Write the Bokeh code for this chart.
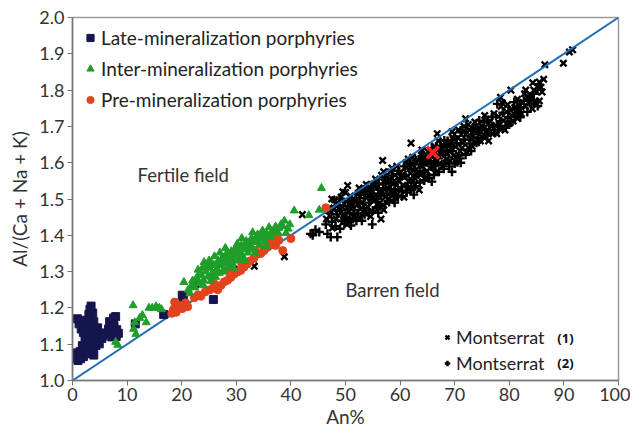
from bokeh.plotting import figure
from bokeh.models import Legend, LegendItem, Label, Range1d, FixedTicker
from bokeh.embed import file_html
from bokeh.resources import INLINE

# ---------------- data ----------------
x_ticks = [0, 10, 20, 30, 40, 50, 60, 70, 80, 90, 100]
y_ticks = [1.0, 1.1, 1.2, 1.3, 1.4, 1.5, 1.6, 1.7, 1.8, 1.9, 2.0]

ref_an = [0, 100]
ref_al = [1.0, 2.0]

late_an = [0.5, 1.0, 1.5, 2.0, 0.8, 1.4, 2.2, 2.6, 1.8, 2.9, 2.3, 3.1, 2.6, 3.4, 2.0, 1.6, 2.9, 3.6, 3.1, 2.6,
           1.2, 0.9, 1.6, 3.3, 3.0, 3.7, 3.2, 3.4, 3.9, 4.1, 4.4, 4.7, 5.1, 5.4, 4.9, 4.3, 3.8, 3.4, 4.6, 5.6,
           3.9, 2.9, 6.6, 6.8, 7.1, 7.5, 7.9, 7.6, 8.1, 8.4, 7.2, 8.0, 11.5, 16.7, 20.1, 20.3, 22.3, 25.8]
late_al = [1.060, 1.055, 1.060, 1.066, 1.076, 1.080, 1.082, 1.090, 1.096, 1.100, 1.110, 1.116, 1.125, 1.130,
           1.132, 1.142, 1.141, 1.146, 1.156, 1.160, 1.156, 1.170, 1.166, 1.172, 1.182, 1.186, 1.196, 1.205,
           1.162, 1.132, 1.112, 1.122, 1.131, 1.116, 1.101, 1.096, 1.088, 1.085, 1.145, 1.124, 1.070, 1.074,
           1.142, 1.162, 1.130, 1.172, 1.176, 1.150, 1.140, 1.130, 1.120, 1.121, 1.156, 1.182, 1.235, 1.222,
           1.266, 1.223]

inter_an = [7.9, 8.3, 11.1, 11.4, 11.2, 11.6, 12.3, 12.8, 13.5, 14.0, 15.3, 15.9, 16.3, 14.6,
            20.4, 21.2, 21.8, 22.4, 22.8, 23.3, 23.6, 24.1, 24.0, 24.4, 24.8, 25.1, 25.3, 25.6, 25.9, 26.2,
            26.4, 26.7, 26.9, 27.2, 27.5, 27.7, 28.0, 28.2, 28.5, 28.8, 29.1, 29.3, 29.6, 29.9, 30.2, 30.3,
            30.6, 30.9, 31.2, 31.5, 31.8, 32.1, 32.4, 32.8, 33.1, 33.5, 33.9, 34.2, 34.6, 34.8, 35.2, 35.6,
            36.0, 36.3, 36.8, 37.2, 37.6, 38.2, 38.8, 39.1, 39.5, 40.6, 43.3, 45.2, 45.6, 26.0, 27.0, 28.0,
            25.0, 23.0, 31.0, 33.0,
            21.5, 22.0, 23.0, 23.8, 24.6, 25.4, 26.5, 27.3, 28.3, 29.0, 29.5, 30.0, 30.8, 31.6, 32.2, 33.0,
            33.7, 34.4, 35.0, 35.5, 36.5, 37.0, 37.8, 38.5, 39.8, 26.8, 28.6, 30.5, 32.5, 34.0, 36.0, 24.0,
            25.5, 27.5, 29.5, 31.5, 33.5, 35.5]
inter_al = [1.106, 1.098, 1.207, 1.160, 1.142, 1.128, 1.172, 1.180, 1.160, 1.200, 1.204, 1.200, 1.196, 1.200,
            1.271, 1.250, 1.262, 1.256, 1.280, 1.268, 1.290, 1.326, 1.276, 1.300, 1.286, 1.310, 1.274, 1.296,
            1.318, 1.285, 1.306, 1.330, 1.296, 1.318, 1.340, 1.305, 1.326, 1.350, 1.312, 1.336, 1.356, 1.322,
            1.344, 1.366, 1.377, 1.332, 1.352, 1.372, 1.342, 1.362, 1.384, 1.352, 1.372, 1.392, 1.362, 1.382,
            1.402, 1.372, 1.392, 1.413, 1.384, 1.404, 1.422, 1.398, 1.412, 1.424, 1.408, 1.430, 1.440, 1.406,
            1.418, 1.468, 1.455, 1.470, 1.530, 1.342, 1.352, 1.365, 1.330, 1.305, 1.392, 1.408,
            1.240, 1.275, 1.290, 1.310, 1.318, 1.325, 1.318, 1.330, 1.340, 1.345, 1.330, 1.355, 1.362, 1.372,
            1.380, 1.385, 1.392, 1.400, 1.405, 1.395, 1.410, 1.415, 1.420, 1.425, 1.430, 1.300, 1.322, 1.345,
            1.365, 1.382, 1.395, 1.262, 1.285, 1.300, 1.310, 1.330, 1.350, 1.370]

pre_an = [18.2, 18.5, 18.7, 19.5, 20.1, 21.1, 20.7, 19.0, 22.3, 23.0, 23.5, 24.3, 25.2, 25.9, 26.6, 27.2,
          27.8, 28.4, 29.0, 29.6, 30.2, 30.8, 31.4, 32.0, 32.6, 33.2, 33.8, 34.5, 35.1, 35.7, 35.1, 36.4,
          37.2, 37.5, 37.8, 37.5, 38.5, 40.0, 46.4, 26.0, 28.8, 31.0, 33.5, 36.0]
pre_al = [1.185, 1.196, 1.216, 1.207, 1.198, 1.203, 1.214, 1.188, 1.228, 1.236, 1.232, 1.244, 1.250, 1.256,
          1.250, 1.262, 1.272, 1.276, 1.284, 1.293, 1.299, 1.303, 1.312, 1.321, 1.330, 1.336, 1.348, 1.350,
          1.358, 1.367, 1.364, 1.374, 1.372, 1.390, 1.386, 1.400, 1.358, 1.391, 1.476, 1.266, 1.296, 1.322,
          1.357, 1.386]

# Montserrat (1): x markers
mont1 = [(22.6, 1.266), (29.6, 1.307), (33.3, 1.315), (38.8, 1.341), (42.1, 1.457), (50.4, 1.537),
         (56.8, 1.606), (62.0, 1.654), (66.8, 1.680), (72.0, 1.721), (80.3, 1.800), (86.5, 1.870),
         (89.9, 1.874), (91.6, 1.911), (91.0, 1.905), (56.5, 1.445), (85.5, 1.822), (85.8, 1.808),
         (83.3, 1.780), (78.4, 1.780), (84.5, 1.800), (49.5, 1.520), (47.5, 1.500),
         (47.2, 1.452), (47.8, 1.471), (48.3, 1.445), (48.6, 1.489), (49.1, 1.462), (49.4, 1.478),
         (49.8, 1.447), (50.2, 1.493), (50.6, 1.468), (50.9, 1.508), (51.3, 1.482), (51.7, 1.455),
         (52.0, 1.497), (52.4, 1.515), (52.7, 1.472), (53.1, 1.490), (53.4, 1.528), (53.8, 1.503),
         (54.1, 1.478), (54.5, 1.519), (54.8, 1.540), (55.2, 1.495), (55.6, 1.512), (55.9, 1.534),
         (56.3, 1.488), (56.6, 1.521), (57.0, 1.547), (57.3, 1.506), (57.7, 1.530), (58.0, 1.556),
         (58.4, 1.517), (58.7, 1.541), (59.1, 1.566), (59.4, 1.525), (59.8, 1.550), (60.1, 1.574),
         (60.5, 1.538), (60.8, 1.560), (61.2, 1.586), (61.6, 1.548), (61.9, 1.571), (62.3, 1.596),
         (62.7, 1.557), (63.0, 1.582), (63.4, 1.606), (63.8, 1.566), (64.1, 1.590), (64.5, 1.614),
         (64.9, 1.577), (65.2, 1.600), (65.6, 1.626), (66.0, 1.588), (66.4, 1.610), (66.8, 1.636),
         (67.2, 1.598), (67.6, 1.622), (68.0, 1.645), (68.5, 1.610), (68.9, 1.633), (69.3, 1.656),
         (69.8, 1.620), (70.2, 1.644), (70.6, 1.668), (71.0, 1.632), (71.5, 1.655), (72.0, 1.678),
         (72.5, 1.642), (73.0, 1.667), (73.5, 1.690), (74.0, 1.655), (74.5, 1.678), (75.0, 1.702),
         (75.5, 1.668), (76.0, 1.690), (76.5, 1.714), (77.0, 1.680), (77.5, 1.703), (78.0, 1.727),
         (78.5, 1.692), (79.0, 1.716), (79.5, 1.740), (80.0, 1.708), (80.5, 1.730), (81.0, 1.752),
         (81.5, 1.722), (82.0, 1.744), (82.5, 1.766), (83.0, 1.755), (83.8, 1.778), (84.2, 1.749),
         (85.0, 1.795), (85.5, 1.770),
         (55.5, 1.555), (58.5, 1.585), (61.5, 1.610), (64.0, 1.635), (67.0, 1.660), (69.5, 1.685),
         (72.5, 1.705), (75.5, 1.730), (78.5, 1.755), (81.5, 1.775), (52.5, 1.530), (57.0, 1.575),
         (46.5, 1.445), (47.0, 1.475), (47.6, 1.420), (48.0, 1.498), (48.8, 1.475), (49.2, 1.505),
         (49.6, 1.455), (50.0, 1.518), (50.3, 1.430), (50.8, 1.485), (51.2, 1.458), (51.6, 1.498),
         (52.2, 1.485), (52.6, 1.448), (53.0, 1.515), (53.4, 1.462), (53.8, 1.540), (54.3, 1.525),
         (54.6, 1.452), (55.0, 1.505), (55.3, 1.538), (55.8, 1.485), (56.2, 1.520), (56.6, 1.565),
         (57.0, 1.470), (57.4, 1.550), (57.8, 1.500), (58.2, 1.575), (58.6, 1.510), (59.0, 1.550),
         (59.4, 1.590), (59.9, 1.530), (60.3, 1.565), (60.7, 1.505), (61.1, 1.600), (61.5, 1.530),
         (61.9, 1.555), (62.3, 1.615), (62.7, 1.540), (63.1, 1.570), (63.5, 1.525), (63.9, 1.620),
         (64.3, 1.600), (64.7, 1.560), (65.1, 1.630), (65.5, 1.585), (66.3, 1.645), (66.7, 1.575),
         (67.3, 1.640), (67.7, 1.590), (68.2, 1.655), (68.6, 1.625), (69.2, 1.605), (69.7, 1.668),
         (70.3, 1.615), (70.7, 1.690), (71.3, 1.640), (71.7, 1.700), (72.2, 1.630), (72.7, 1.690),
         (73.2, 1.645), (73.7, 1.712), (74.2, 1.690), (74.7, 1.660), (75.2, 1.692), (75.7, 1.720),
         (76.2, 1.660), (76.7, 1.700), (77.2, 1.735), (77.7, 1.680), (78.2, 1.705), (78.7, 1.765),
         (79.2, 1.690), (79.7, 1.760), (80.2, 1.745), (80.7, 1.715), (81.2, 1.740), (81.7, 1.760),
         (82.2, 1.735), (82.8, 1.790), (83.5, 1.765), (84.0, 1.785), (84.8, 1.770), (85.3, 1.810),
         (86.0, 1.795), (84.3, 1.820), (83.0, 1.800), (86.3, 1.830), (85.0, 1.760)]

# Montserrat (2): + markers
mont2 = [(43.6, 1.404), (44.0, 1.400), (44.5, 1.415), (45.2, 1.409), (46.4, 1.430), (46.7, 1.404),
         (47.3, 1.395), (48.5, 1.395), (51.0, 1.427), (54.9, 1.430), (60.4, 1.523), (62.0, 1.528),
         (64.4, 1.551), (68.0, 1.597), (70.5, 1.601), (71.1, 1.600),
         (47.0, 1.462), (47.5, 1.437), (48.0, 1.480), (48.4, 1.458), (48.9, 1.500), (49.3, 1.440),
         (49.6, 1.492), (50.0, 1.460), (50.4, 1.480), (50.8, 1.448), (51.1, 1.495), (51.5, 1.470),
         (51.9, 1.513), (52.2, 1.460), (52.6, 1.502), (52.9, 1.525), (53.3, 1.476), (53.6, 1.512),
         (54.0, 1.535), (54.3, 1.490), (54.7, 1.505), (55.0, 1.526), (55.4, 1.548), (55.8, 1.500),
         (56.1, 1.543), (56.5, 1.508), (56.9, 1.530), (57.2, 1.560), (57.6, 1.515), (57.9, 1.543),
         (58.3, 1.528), (58.6, 1.565), (59.0, 1.540), (59.3, 1.510), (59.7, 1.578), (60.0, 1.556),
         (60.3, 1.522), (60.7, 1.590), (61.0, 1.566), (61.4, 1.535), (61.8, 1.598), (62.1, 1.582),
         (62.5, 1.545), (62.9, 1.606), (63.2, 1.568), (63.6, 1.595), (64.0, 1.618), (64.3, 1.578),
         (64.7, 1.602), (65.1, 1.566), (65.4, 1.614), (65.8, 1.640), (66.2, 1.600), (66.6, 1.622),
         (67.0, 1.612), (67.4, 1.647), (67.8, 1.632), (68.3, 1.622), (68.7, 1.660), (69.1, 1.643),
         (69.6, 1.632), (70.0, 1.672), (70.4, 1.654), (70.8, 1.620), (71.3, 1.684), (71.8, 1.664),
         (72.3, 1.690), (72.8, 1.653), (73.3, 1.678), (73.8, 1.700), (74.3, 1.668), (74.8, 1.690),
         (75.3, 1.712), (75.8, 1.680), (76.3, 1.702), (76.8, 1.726), (77.3, 1.690), (77.8, 1.762),
         (78.3, 1.714), (78.8, 1.738), (79.3, 1.702), (79.8, 1.726), (80.3, 1.711), (80.9, 1.767),
         (81.5, 1.730), (82.1, 1.753), (82.7, 1.771), (83.3, 1.740), (84.0, 1.760), (84.5, 1.790),
         (85.2, 1.756), (76.0, 1.716), (74.5, 1.716), (73.6, 1.698), (73.0, 1.670), (71.1, 1.689),
         (69.9, 1.670), (69.3, 1.652), (68.1, 1.661), (67.4, 1.634), (70.5, 1.606), (68.3, 1.601),
         (65.0, 1.606), (64.4, 1.574), (66.5, 1.592),
         (48.2, 1.425), (49.0, 1.418), (49.8, 1.432), (50.5, 1.440), (51.4, 1.445), (52.0, 1.440),
         (52.8, 1.452), (53.5, 1.458), (54.2, 1.462), (55.0, 1.468), (55.7, 1.475), (56.4, 1.480),
         (57.2, 1.486), (58.0, 1.492), (58.8, 1.498), (59.6, 1.505), (60.4, 1.508), (61.2, 1.518),
         (62.0, 1.525), (62.8, 1.535), (63.6, 1.545), (64.4, 1.552), (65.3, 1.558), (66.2, 1.566),
         (67.1, 1.575), (68.0, 1.583), (69.0, 1.590), (70.0, 1.598), (71.0, 1.612), (72.0, 1.622),
         (73.0, 1.632), (74.0, 1.655), (76.0, 1.675), (78.0, 1.690), (80.0, 1.705), (82.0, 1.725),
         (53.0, 1.440), (56.0, 1.462), (59.0, 1.490), (62.5, 1.512), (65.8, 1.548), (69.5, 1.575)]

mean_an = [66.0]
mean_al = [1.628]

m1_an = [a for a, _ in mont1]
m1_al = [b for _, b in mont1]
m2_an = [a for a, _ in mont2]
m2_al = [b for _, b in mont2]

FONT = "Lato"

p = figure(width=630, height=433, output_backend="svg", toolbar_location=None,
           x_range=Range1d(0, 100), y_range=Range1d(1.0, 2.0),
           min_border_left=72, min_border_right=12, min_border_top=17, min_border_bottom=53)
p.xgrid.visible = False
p.ygrid.visible = False
p.outline_line_color = "#9a9a9a"
p.outline_line_width = 1.5
p.background_fill_color = "white"
p.border_fill_color = "white"

for ax in (p.xaxis[0], p.yaxis[0]):
    ax.axis_line_color = "#777777"
    ax.axis_line_width = 1.5
    ax.major_tick_line_color = "#777777"
    ax.major_tick_in = 0
    ax.major_tick_out = 5
    ax.minor_tick_line_color = None
    ax.major_label_text_font = FONT
    ax.major_label_text_font_size = "18px"
    ax.major_label_text_color = "#333333"
    ax.major_label_standoff = 3
    ax.axis_label_text_font = FONT
    ax.axis_label_text_font_size = "19px"
    ax.axis_label_text_font_style = "normal"
    ax.axis_label_text_color = "#333333"

p.xaxis.ticker = FixedTicker(ticks=x_ticks)
p.yaxis.ticker = FixedTicker(ticks=y_ticks)
p.yaxis.major_label_overrides = {t: f"{t:.1f}" for t in y_ticks}
p.xaxis.axis_label = "An%"
p.yaxis.axis_label = "Al/(Ca + Na + K)"
p.xaxis.major_label_standoff = 2
p.xaxis.axis_label_standoff = 1
p.yaxis.axis_label_standoff = 5

r_m1 = p.scatter(m1_an, m1_al, marker="x", size=9, line_color="black", line_width=2.4)
r_m2 = p.scatter(m2_an, m2_al, marker="cross", size=9, line_color="black", line_width=2.4)
p.line(ref_an, ref_al, line_color="#1f6db5", line_width=2)
r_late = p.scatter(late_an, late_al, marker="square", size=8, fill_color="#16164f", line_color="#16164f")
r_pre = p.scatter(pre_an, pre_al, marker="circle", size=8, fill_color="#e2431c", line_color="#e2431c")
r_inter = p.scatter(inter_an, inter_al, marker="triangle", size=8, fill_color="#1f9e2a", line_color="#1f9e2a")
p.scatter(mean_an, mean_al, marker="x", size=17, line_color="#ff2020", line_width=3.5)

leg1 = Legend(items=[LegendItem(label="Late-mineralization porphyries", renderers=[r_late]),
                     LegendItem(label="Inter-mineralization porphyries", renderers=[r_inter]),
                     LegendItem(label="Pre-mineralization porphyries", renderers=[r_pre])],
              location="top_left", margin=0, padding=9, spacing=8,
              glyph_width=18, glyph_height=23, label_height=23, label_standoff=2,
              label_text_font=FONT, label_text_font_size="19px", label_text_color="#222222",
              background_fill_alpha=0, border_line_alpha=0)
p.add_layout(leg1)

leg2 = Legend(items=[LegendItem(label="Montserrat", renderers=[r_m1]),
                     LegendItem(label="Montserrat", renderers=[r_m2])],
              location=(368, 6), margin=0, padding=0, spacing=4,
              glyph_width=14, glyph_height=22, label_height=22, label_standoff=2,
              label_text_font=FONT, label_text_font_size="18px", label_text_color="#222222",
              background_fill_alpha=0, border_line_alpha=0)
p.add_layout(leg2)

for txt, yy in (("(1)", 1.118), ("(2)", 1.047)):
    p.add_layout(Label(x=88.8, y=yy, text=txt, text_font="Open Sans",
                       text_font_style="bold", text_font_size="13px", text_color="#111111",
                       text_baseline="middle", text_align="left"))

p.add_layout(Label(x=11.9, y=1.565, text="Fertile field", text_font=FONT, text_font_size="18.5px",
                   text_color="#333333", text_baseline="middle"))
p.add_layout(Label(x=50.0, y=1.249, text="Barren field", text_font=FONT, text_font_size="18.5px",
                   text_color="#333333", text_baseline="middle"))

open("out.html", "w").write(file_html(p, INLINE))
